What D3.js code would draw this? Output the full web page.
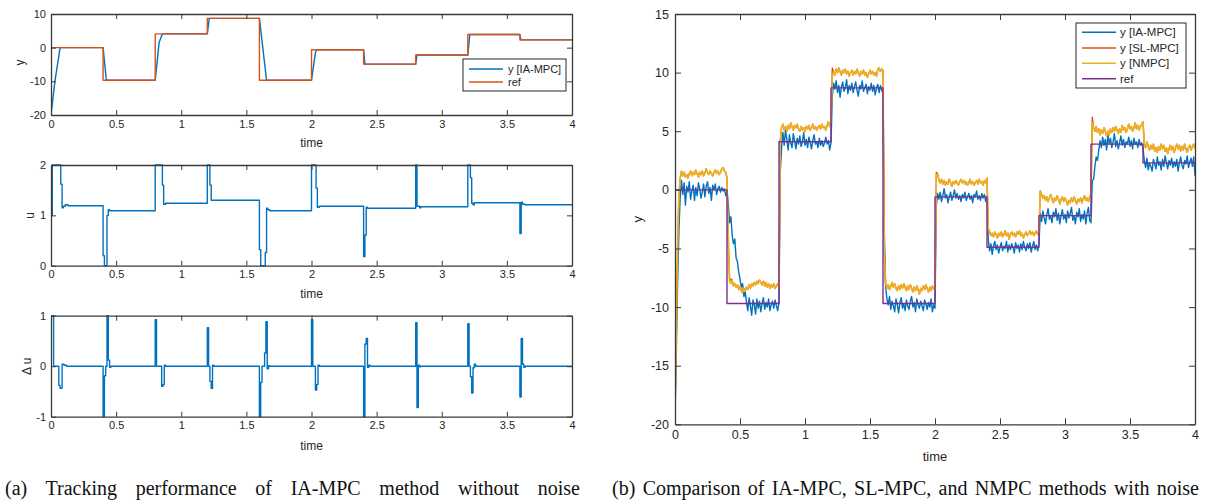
<!DOCTYPE html>
<html>
<head>
<meta charset="utf-8">
<script src="https://cdn.jsdelivr.net/npm/d3@7"></script>
<style>
  body { margin: 0; background: #fff; }
  svg { display: block; }
</style>
</head>
<body>
<svg id="fig" width="1212" height="504"></svg>
<script>
// ---- reference trajectory (piecewise constant set-points) ----
const refTime  = [0, 0.4, 0.8, 1.2, 1.6, 2.0, 2.4, 2.8, 3.2, 3.6, 4.0];
const refValue = [0, -9.7, 4.1, 8.7, -9.7, -0.6, -4.9, -2.2, 3.9, 2.3, 2.3];

// ---- (a) IA-MPC output without noise ----
const yCleanTime  = [0, 0.03, 0.07, 0.4, 0.425, 0.8, 0.83, 0.85, 0.86, 1.2, 1.215, 1.6, 1.655, 2.0, 2.03, 2.04, 2.4, 2.41, 2.8, 2.81, 3.2, 3.215, 3.6, 3.607, 4.0];
const yCleanValue = [-20, -10, 0, 0, -9.7, -9.7, 1.5, 3.6, 4.1, 4.1, 8.7, 8.7, -9.7, -9.7, -1.5, -0.6, -0.6, -4.9, -4.9, -2.2, -2.2, 3.9, 3.9, 2.3, 2.3];

// ---- (a) control input u (held between samples) ----
const uTime  = [0, 0.01, 0.075, 0.085, 0.095, 0.11, 0.13, 0.40, 0.41, 0.43, 0.44, 0.45, 0.80, 0.855, 0.865, 0.88, 1.20, 1.22, 1.23, 1.60, 1.61, 1.645, 1.655, 1.665, 1.68, 2.00, 2.035, 2.045, 2.06, 2.40, 2.41, 2.42, 2.43, 2.80, 2.81, 2.83, 2.84, 3.20, 3.22, 3.23, 3.24, 3.25, 3.60, 3.61, 3.62, 3.64, 4.00];
const uValue = [1.0, 2.0, 1.62, 1.15, 1.18, 1.21, 1.19, 0.2, 0.0, 1.0, 1.11, 1.09, 2.0, 1.6, 1.22, 1.24, 2.0, 1.6, 1.30, 0.32, 0.0, 0.26, 1.14, 1.11, 1.09, 2.0, 1.54, 1.16, 1.18, 0.18, 0.61, 1.16, 1.14, 2.0, 1.18, 1.15, 1.17, 2.0, 1.75, 1.24, 1.21, 1.25, 0.64, 1.26, 1.22, 1.21, 1.21];

// ---- (a) input increments Δu ----
const duTime  = [0, 0.02, 0.06, 0.07, 0.085, 0.10, 0.12, 0.40, 0.41, 0.42, 0.43, 0.44, 0.45, 0.46, 0.80, 0.81, 0.85, 0.86, 0.87, 0.88, 1.20, 1.21, 1.22, 1.23, 1.24, 1.25, 1.60, 1.61, 1.62, 1.64, 1.65, 1.66, 1.67, 1.68, 2.00, 2.01, 2.03, 2.04, 2.05, 2.06, 2.40, 2.41, 2.42, 2.43, 2.44, 2.45, 2.80, 2.81, 2.82, 2.83, 2.84, 3.20, 3.21, 3.22, 3.23, 3.24, 3.25, 3.26, 3.60, 3.61, 3.62, 3.63, 3.64, 4.00];
const duValue = [1, 0, -0.38, -0.44, 0.04, 0.02, 0, -1.0, -0.19, 0, 1.0, 0.12, -0.02, 0, 0.92, 0, -0.40, -0.36, 0.02, 0, 0.76, 0, -0.30, -0.44, 0.02, 0, -1.0, -0.32, 0, 0.26, 0.88, -0.05, 0.01, 0, 0.92, 0, -0.47, -0.36, 0.02, 0, -1.0, 0.44, 0.55, -0.02, 0.02, 0, 0.86, -0.82, 0.02, -0.01, 0, 0.84, 0, -0.21, -0.53, -0.03, 0.04, 0, -0.61, 0.55, 0.04, -0.02, 0, 0];

// ---- (b) noisy outputs, sampled every 0.01 s from t = 0 ----
const sampleStep = 0.01;
const yIaMpc = [
  -19.3, -14, -8, -3.5, -0.6, 0.8, -0.4, 0.6, -1.3, 0.3,
  -0.2, 0.7, -0.8, -0.1, 0.4, -0.9, 0.2, -0.5, 0.6, 0.1,
  -0.7, -0.2, 0.5, -0.6, 0.3, 0.7, -0.3, 0.2, -0.9, 0.4,
  0.0, 0.5, -0.4, 0.1, 0.3, -0.2, 0.2, -0.1, 0.1, -0.5,
  -0.1,
  -1.2, -2.8, -2.3, -3.9, -4.6, -4.2, -5.8, -6.1, -7.0, -7.6,
  -8.3, -8.0, -9.1, -8.7, -9.6, -10.3, -9.2, -9.9, -10.7, -9.4,
  -9.8, -10.6, -9.3, -10.1, -9.5, -10.4, -9.7, -9.2, -10.2, -9.6,
  -10.0, -9.3, -10.3, -9.8, -9.5, -10.1, -9.4, -9.9, -10.3, -9.6,
  1.5, 3.6, 4.9, 3.8, 5.1, 4.3, 3.4, 4.7, 4.0, 3.6,
  4.8, 4.2, 3.5, 4.4, 3.9, 4.6, 3.7, 4.1, 4.9, 3.8,
  4.3, 3.6, 4.5, 4.0, 3.5, 4.2, 4.7, 3.9, 4.1, 3.6,
  4.4, 3.8, 4.2, 3.7, 4.0, 4.5, 3.9, 4.2, 3.4, 4.0,
  8.0, 9.1, 8.6, 9.3, 8.3, 8.9, 7.9, 8.8, 9.2, 8.4,
  8.7, 9.4, 8.2, 8.9, 8.5, 9.1, 8.3, 8.8, 9.2, 8.5,
  8.0, 8.9, 8.6, 9.3, 8.4, 8.7, 9.0, 8.2, 8.8, 8.5,
  9.1, 8.4, 8.9, 8.1, 8.7, 9.0, 8.3, 8.9, 8.5, 8.2,
  -3.5, -8.2, -9.3, -9.8, -9.1, -10.2, -9.5, -9.9, -10.4, -9.3,
  -9.8, -10.5, -9.6, -9.2, -10.1, -9.7, -10.3, -9.4, -9.9, -10.2,
  -9.5, -9.1, -10.0, -9.6, -10.4, -9.3, -9.8, -10.1, -9.5, -9.9,
  -10.3, -9.4, -9.7, -10.2, -9.6, -10.0, -9.3, -10.4, -9.8, -10.1,
  -1.4, -0.3, -0.8, -0.2, -1.0, -0.5, 0.1, -0.7, -0.4, -1.1,
  -0.6, -0.2, -0.9, -0.5, 0.0, -0.7, -0.3, -0.8, -0.5, -1.0,
  -0.4, -0.7, -0.2, -0.9, -0.6, -0.3, -0.8, -0.5, -1.1, -0.4,
  -0.6, -0.1, -0.8, -0.5, -0.9, -0.3, -0.7, -0.4, -1.0, -0.6,
  -4.3, -5.2, -4.6, -5.5, -4.8, -4.4, -5.1, -4.7, -5.4, -4.9,
  -4.5, -5.2, -4.8, -5.0, -4.4, -5.3, -4.7, -5.1, -4.6, -4.9,
  -5.4, -4.5, -5.0, -4.7, -5.3, -4.6, -5.1, -4.4, -4.9, -5.2,
  -4.6, -5.0, -4.5, -5.3, -4.8, -4.4, -5.1, -4.7, -5.2, -4.6,
  -2.0, -2.7, -1.8, -2.4, -2.9, -2.1, -1.6, -2.5, -2.2, -2.8,
  -1.9, -2.3, -1.6, -2.6, -2.0, -2.9, -2.2, -1.7, -2.5, -2.1,
  -2.8, -1.8, -2.4, -2.0, -1.5, -2.6, -2.2, -2.9, -1.9, -2.3,
  -1.6, -2.7, -2.1, -2.5, -1.8, -2.9, -2.0, -1.5, -2.6, -2.8,
  0.8, 0.9, 2.0, 2.8, 2.5, 3.4, 4.2, 3.6, 4.5, 3.8,
  4.3, 3.4, 4.7, 3.9, 4.4, 3.6, 4.1, 4.8, 3.7, 4.2,
  3.5, 4.0, 4.6, 3.8, 4.3, 3.6, 4.1, 3.9, 4.5, 3.7,
  4.2, 3.5, 4.4, 3.9, 4.1, 3.6, 4.3, 3.8, 4.0, 3.6,
  2.5, 1.9, 2.7, 1.7, 2.3, 2.0, 1.6, 2.6, 2.2, 1.8,
  2.8, 2.1, 2.4, 1.7, 2.6, 2.0, 2.9, 2.3, 1.8, 2.5,
  2.1, 2.7, 1.9, 2.4, 2.0, 2.6, 1.6, 2.3, 2.8, 2.1,
  1.8, 2.5, 2.2, 2.9, 1.9, 2.4, 2.7, 2.0, 2.8, 1.2
];
const ySlMpc = [
  -19.0, -12, -5, -0.5, 1.0, 1.6, 1.2, 1.5, 1.1, 1.3,
  1.0, 1.4, 1.6, 1.2, 1.5, 1.3, 1.7, 1.4, 1.1, 1.5,
  1.3, 1.6, 1.2, 1.4, 1.8, 1.5, 1.3, 1.6, 1.4, 1.2,
  1.5, 1.7, 1.4, 1.6, 1.3, 1.5, 1.8, 1.9, 1.6, 1.5,
  1.0,
  -4.5, -7.8, -7.6, -7.7, -8.2, -8.0, -8.3, -8.1, -8.5, -8.2,
  -8.6, -8.8, -8.4, -8.6, -8.3, -8.5, -8.1, -8.4, -8.0, -8.2,
  -7.9, -8.1, -7.8, -8.0, -7.7, -7.9, -8.1, -7.8, -8.2, -7.9,
  -8.3, -8.0, -8.4, -8.1, -8.3, -8.0, -8.4, -8.2, -8.0, -8.3,
  4.2, 5.3, 5.6, 5.1, 5.4, 5.0, 5.5, 5.2, 5.7, 5.4,
  5.1, 5.5, 5.3, 5.6, 5.2, 5.0, 5.4, 5.1, 5.3, 5.0,
  5.4, 5.2, 5.5, 5.1, 5.3, 5.6, 5.2, 5.4, 5.1, 5.3,
  5.5, 5.2, 5.6, 5.3, 5.4, 5.1, 5.5, 5.8, 5.4, 5.9,
  10.4, 10.1, 9.8, 10.3, 10.0, 10.4, 10.1, 9.8, 10.2, 10.0,
  10.3, 9.9, 10.1, 9.7, 10.0, 10.2, 9.8, 10.1, 9.9, 10.3,
  10.0, 9.7, 10.1, 9.9, 10.2, 9.8, 10.0, 9.6, 9.9, 10.2,
  9.9, 10.1, 9.8, 10.0, 9.7, 10.3, 10.4, 10.1, 10.3, 10.2,
  -5.5, -8.0, -8.4, -8.1, -8.5, -8.2, -7.9, -8.3, -8.0, -8.4,
  -8.6, -8.2, -8.5, -8.1, -8.4, -8.0, -8.3, -8.6, -8.2, -8.5,
  -8.1, -8.4, -8.7, -8.3, -8.6, -8.2, -8.5, -8.9, -8.4, -8.6,
  -8.2, -8.5, -8.1, -8.4, -8.7, -8.3, -8.6, -8.2, -8.4, -8.6,
  1.5, 1.4, 0.8, 0.6, 0.9, 0.5, 0.8, 0.4, 0.7, 0.5,
  0.9, 0.6, 0.3, 0.7, 0.5, 0.8, 0.6, 0.4, 0.7, 0.9,
  0.6, 0.8, 0.5, 0.7, 0.4, 0.6, 0.9, 0.5, 0.7, 0.4,
  0.6, 0.8, 0.5, 0.9, 0.6, 0.7, 0.4, 0.8, 0.6, 1.0,
  -3.3, -3.6, -3.9, -3.7, -4.0, -3.6, -3.8, -4.1, -3.7, -3.9,
  -3.6, -4.0, -3.8, -3.5, -3.9, -3.7, -4.2, -3.8, -3.6, -3.9,
  -3.7, -4.0, -3.6, -3.8, -3.5, -3.9, -3.7, -4.1, -3.8, -3.6,
  -3.9, -3.7, -3.5, -3.8, -3.6, -3.9, -3.7, -3.5, -3.8, -3.6,
  -0.1, -0.4, -0.7, -0.5, -0.9, -0.6, -1.0, -0.7, -0.4, -0.8,
  -1.1, -0.7, -0.9, -0.5, -0.8, -1.2, -0.8, -0.6, -1.0, -0.7,
  -0.9, -1.3, -0.9, -1.1, -0.7, -1.0, -0.6, -0.9, -1.2, -0.8,
  -1.0, -0.7, -1.1, -0.8, -0.5, -0.9, -0.7, -1.0, -0.6, -0.4,
  6.2, 5.3, 5.0, 5.4, 4.9, 5.2, 4.7, 5.1, 4.8, 5.3,
  5.0, 4.6, 5.0, 4.7, 5.2, 4.9, 5.3, 5.0, 5.4, 5.1,
  4.8, 5.2, 4.9, 5.5, 5.1, 5.3, 4.9, 5.2, 5.6, 5.2,
  5.4, 5.0, 5.3, 5.7, 5.2, 5.5, 5.1, 5.4, 5.6, 5.8,
  3.9, 3.6, 4.1, 3.7, 3.4, 3.8, 3.5, 3.9, 3.3, 3.6,
  3.2, 3.7, 3.4, 3.9, 3.5, 3.8, 3.3, 3.6, 3.1, 3.5,
  3.8, 3.4, 3.7, 3.2, 3.6, 3.9, 3.5, 3.8, 3.3, 3.7,
  3.4, 3.9, 3.5, 3.2, 3.6, 3.8, 3.4, 3.7, 3.9, 3.5
];
const yNmpc = [
  -19.0, -12, -5, -0.5, 1.0, 1.6, 1.2, 1.5, 1.1, 1.3,
  1.0, 1.4, 1.6, 1.2, 1.5, 1.3, 1.7, 1.4, 1.1, 1.5,
  1.3, 1.6, 1.2, 1.4, 1.8, 1.5, 1.3, 1.6, 1.4, 1.2,
  1.5, 1.7, 1.4, 1.6, 1.3, 1.5, 1.8, 1.9, 1.6, 1.5,
  1.0,
  -4.0, -7.8, -8.0, -7.7, -8.2, -8.0, -8.3, -8.1, -8.5, -8.2,
  -8.6, -8.8, -8.4, -8.6, -8.3, -8.5, -8.1, -8.4, -8.0, -8.2,
  -7.9, -8.1, -7.8, -8.0, -7.7, -7.9, -8.1, -7.8, -8.2, -7.9,
  -8.3, -8.0, -8.4, -8.1, -8.3, -8.0, -8.4, -8.2, -8.0, -8.3,
  4.2, 5.3, 5.6, 5.1, 5.4, 5.0, 5.5, 5.2, 5.7, 5.4,
  5.1, 5.5, 5.3, 5.6, 5.2, 5.0, 5.4, 5.1, 5.3, 5.0,
  5.4, 5.2, 5.5, 5.1, 5.3, 5.6, 5.2, 5.4, 5.1, 5.3,
  5.5, 5.2, 5.6, 5.3, 5.4, 5.1, 5.5, 5.8, 5.4, 5.9,
  9.6, 10.1, 9.8, 10.3, 10.0, 10.4, 10.1, 9.8, 10.2, 10.0,
  10.3, 9.9, 10.1, 9.7, 10.0, 10.2, 9.8, 10.1, 9.9, 10.3,
  10.0, 9.7, 10.1, 9.9, 10.2, 9.8, 10.0, 9.6, 9.9, 10.2,
  9.9, 10.1, 9.8, 10.0, 9.7, 10.3, 10.4, 10.1, 10.3, 10.2,
  -5.5, -8.0, -8.4, -8.1, -8.5, -8.2, -7.9, -8.3, -8.0, -8.4,
  -8.6, -8.2, -8.5, -8.1, -8.4, -8.0, -8.3, -8.6, -8.2, -8.5,
  -8.1, -8.4, -8.7, -8.3, -8.6, -8.2, -8.5, -8.9, -8.4, -8.6,
  -8.2, -8.5, -8.1, -8.4, -8.7, -8.3, -8.6, -8.2, -8.4, -8.6,
  1.2, 1.4, 0.8, 0.6, 0.9, 0.5, 0.8, 0.4, 0.7, 0.5,
  0.9, 0.6, 0.3, 0.7, 0.5, 0.8, 0.6, 0.4, 0.7, 0.9,
  0.6, 0.8, 0.5, 0.7, 0.4, 0.6, 0.9, 0.5, 0.7, 0.4,
  0.6, 0.8, 0.5, 0.9, 0.6, 0.7, 0.4, 0.8, 0.6, 1.0,
  -3.3, -3.6, -3.9, -3.7, -4.0, -3.6, -3.8, -4.1, -3.7, -3.9,
  -3.6, -4.0, -3.8, -3.5, -3.9, -3.7, -4.2, -3.8, -3.6, -3.9,
  -3.7, -4.0, -3.6, -3.8, -3.5, -3.9, -3.7, -4.1, -3.8, -3.6,
  -3.9, -3.7, -3.5, -3.8, -3.6, -3.9, -3.7, -3.5, -3.8, -3.6,
  -0.1, -0.4, -0.7, -0.5, -0.9, -0.6, -1.0, -0.7, -0.4, -0.8,
  -1.1, -0.7, -0.9, -0.5, -0.8, -1.2, -0.8, -0.6, -1.0, -0.7,
  -0.9, -1.3, -0.9, -1.1, -0.7, -1.0, -0.6, -0.9, -1.2, -0.8,
  -1.0, -0.7, -1.1, -0.8, -0.5, -0.9, -0.7, -1.0, -0.6, -0.4,
  5.7, 5.3, 5.0, 5.4, 4.9, 5.2, 4.7, 5.1, 4.8, 5.3,
  5.0, 4.6, 5.0, 4.7, 5.2, 4.9, 5.3, 5.0, 5.4, 5.1,
  4.8, 5.2, 4.9, 5.5, 5.1, 5.3, 4.9, 5.2, 5.6, 5.2,
  5.4, 5.0, 5.3, 5.7, 5.2, 5.5, 5.1, 5.4, 5.6, 5.8,
  3.9, 3.6, 4.1, 3.7, 3.4, 3.8, 3.5, 3.9, 3.3, 3.6,
  3.2, 3.7, 3.4, 3.9, 3.5, 3.8, 3.3, 3.6, 3.1, 3.5,
  3.8, 3.4, 3.7, 3.2, 3.6, 3.9, 3.5, 3.8, 3.3, 3.7,
  3.4, 3.9, 3.5, 3.2, 3.6, 3.8, 3.4, 3.7, 3.9, 3.5
];

// ---- ticks ----
const timeTicks = [0, 0.5, 1, 1.5, 2, 2.5, 3, 3.5, 4];
const yTicksA   = [-20, -10, 0, 10];
const uTicks    = [0, 1, 2];
const duTicks   = [-1, 0, 1];
const yTicksB   = [-20, -15, -10, -5, 0, 5, 10, 15];

// ---- styling ----
const C_BLUE = '#0072BD', C_ORANGE = '#D95319', C_YELLOW = '#EDB120', C_PURPLE = '#7E2F8E';
const AXIS = '#3a3a3a';
const SANS = '"Liberation Sans", Arial, Helvetica, sans-serif';
const SERIF = '"Liberation Serif", "Times New Roman", serif';

const svg = d3.select('#fig');
const defs = svg.append('defs');
const fmt = d => String(d);

// Builds one MATLAB-style box axes; returns scales and a clipped group for the data.
function makePanel(o) {
  const x = d3.scaleLinear().domain(o.xDomain).range([o.x0, o.x1]);
  const y = d3.scaleLinear().domain(o.yDomain).range([o.y1, o.y0]);
  defs.append('clipPath').attr('id', o.id)
    .append('rect').attr('x', o.x0).attr('y', o.y0 - 1)
    .attr('width', o.x1 - o.x0).attr('height', o.y1 - o.y0 + 2);
  const g = svg.append('g');
  const plot = g.append('g').attr('clip-path', `url(#${o.id})`);
  const ax = g.append('g');
  const L = o.tickLen;
  ax.append('g').attr('transform', `translate(0,${o.y1})`)
    .call(d3.axisBottom(x).tickValues(o.xTicks).tickFormat(fmt).tickSizeInner(-L).tickSizeOuter(0).tickPadding(o.pad));
  ax.append('g').attr('transform', `translate(0,${o.y0})`)
    .call(d3.axisTop(x).tickValues(o.xTicks).tickFormat('').tickSizeInner(-L).tickSizeOuter(0));
  ax.append('g').attr('transform', `translate(${o.x0},0)`)
    .call(d3.axisLeft(y).tickValues(o.yTicks).tickFormat(fmt).tickSizeInner(-L).tickSizeOuter(0).tickPadding(o.pad));
  ax.append('g').attr('transform', `translate(${o.x1},0)`)
    .call(d3.axisRight(y).tickValues(o.yTicks).tickFormat('').tickSizeInner(-L).tickSizeOuter(0));
  ax.selectAll('.domain').attr('stroke', AXIS).attr('stroke-width', 1.3);
  ax.selectAll('.tick line').attr('stroke', AXIS).attr('stroke-width', 1);
  ax.selectAll('.tick text').attr('fill', '#262626')
    .style('font-family', SANS).style('font-size', o.font + 'px');
  // x label
  g.append('text').attr('x', (o.x0 + o.x1) / 2).attr('y', o.xLabelY)
    .attr('text-anchor', 'middle').attr('fill', '#262626')
    .style('font-family', SANS).style('font-size', o.labelFont + 'px').text('time');
  // y label
  g.append('text').attr('transform', `translate(${o.yLabelX},${(o.y0 + o.y1) / 2 + (o.yLabelDy || 0)}) rotate(-90)`)
    .attr('text-anchor', 'middle').attr('dy', '0.3em').attr('fill', '#262626')
    .style('font-family', SANS).style('font-size', o.labelFont + 'px').text(o.yLabel);
  return { x, y, plot };
}

function drawLine(p, xs, ys, color, width, curve) {
  const pts = d3.zip(xs, ys);
  p.plot.append('path').datum(pts)
    .attr('fill', 'none').attr('stroke', color).attr('stroke-width', width)
    .attr('stroke-linejoin', 'round')
    .attr('d', d3.line().x(d => p.x(d[0])).y(d => p.y(d[1])).curve(curve || d3.curveLinear));
}

function drawLegend(box, entries, rowY, lineX0, lineX1, textX, font) {
  const g = svg.append('g');
  g.append('rect').attr('x', box.x).attr('y', box.y).attr('width', box.w).attr('height', box.h)
    .attr('fill', '#fff').attr('stroke', '#262626').attr('stroke-width', 1);
  entries.forEach((e, i) => {
    const yy = rowY[i];
    g.append('line').attr('x1', lineX0).attr('x2', lineX1).attr('y1', yy).attr('y2', yy)
      .attr('stroke', e.color).attr('stroke-width', 1.4);
    g.append('text').attr('x', textX).attr('y', yy).attr('dy', '0.35em').attr('fill', '#262626')
      .style('font-family', SANS).style('font-size', font + 'px').text(e.label);
  });
}

// Caption set in a serif face, justified to a given width by widening word gaps.
function caption(x, width, str) {
  const t = svg.append('text').attr('x', x).attr('y', 495).attr('fill', '#111')
    .style('font-family', SERIF).style('font-size', '20px').text(str);
  const natural = t.node().getComputedTextLength();
  const gaps = str.split(' ').length - 1;
  t.style('word-spacing', Math.max(0, (width - natural) / gaps) + 'px');
}

// ---------- (a) top: output tracking ----------
const pA1 = makePanel({ id: 'cA1', x0: 51, x1: 572, y0: 14, y1: 115, xDomain: [0, 4], yDomain: [-20, 10],
  xTicks: timeTicks, yTicks: yTicksA, tickLen: 5, pad: 5, font: 11, labelFont: 12,
  xLabelY: 147, yLabel: 'y', yLabelX: 20, yLabelDy: -2 });
drawLine(pA1, yCleanTime, yCleanValue, C_BLUE, 1.4);
drawLine(pA1, refTime, refValue, C_ORANGE, 1.4, d3.curveStepAfter);
drawLegend({ x: 463, y: 59, w: 103, h: 32 },
  [{ label: 'y [IA-MPC]', color: C_BLUE }, { label: 'ref', color: C_ORANGE }],
  [69, 82], 469, 503, 508, 11);

// ---------- (a) middle: control input ----------
const pA2 = makePanel({ id: 'cA2', x0: 51, x1: 572, y0: 165, y1: 265.7, xDomain: [0, 4], yDomain: [0, 2],
  xTicks: timeTicks, yTicks: uTicks, tickLen: 5, pad: 5, font: 11, labelFont: 12,
  xLabelY: 298, yLabel: 'u', yLabelX: 30 });
drawLine(pA2, uTime, uValue, C_BLUE, 1.4, d3.curveStepAfter);

// ---------- (a) bottom: input increments ----------
const pA3 = makePanel({ id: 'cA3', x0: 51, x1: 572, y0: 315.7, y1: 416.7, xDomain: [0, 4], yDomain: [-1, 1],
  xTicks: timeTicks, yTicks: duTicks, tickLen: 5, pad: 5, font: 11, labelFont: 12,
  xLabelY: 450, yLabel: 'Δ u', yLabelX: 27 });
drawLine(pA3, duTime, duValue, C_BLUE, 1.4, d3.curveStepAfter);

// ---------- (b) comparison with noise ----------
const pB = makePanel({ id: 'cB', x0: 675, x1: 1195, y0: 14, y1: 424.3, xDomain: [0, 4], yDomain: [-20, 15],
  xTicks: timeTicks, yTicks: yTicksB, tickLen: 6, pad: 6, font: 12.5, labelFont: 13,
  xLabelY: 461, yLabel: 'y', yLabelX: 638 });
const sampleTimes = yIaMpc.map((_, i) => i * sampleStep);
drawLine(pB, sampleTimes, yIaMpc, C_BLUE, 1.4);
drawLine(pB, sampleTimes, ySlMpc, C_ORANGE, 1.4);
drawLine(pB, sampleTimes, yNmpc, C_YELLOW, 1.6);
drawLine(pB, refTime, refValue, C_PURPLE, 1.4, d3.curveStepAfter);
drawLegend({ x: 1076, y: 23, w: 110, h: 65 },
  [{ label: 'y [IA-MPC]', color: C_BLUE }, { label: 'y [SL-MPC]', color: C_ORANGE },
   { label: 'y [NMPC]', color: C_YELLOW }, { label: 'ref', color: C_PURPLE }],
  [32.3, 48, 63.3, 78.7], 1082, 1116, 1120, 11.5);

// ---------- sub-figure captions ----------
caption(5, 575, '(a) Tracking performance of IA-MPC method without noise');
caption(612, 587, '(b) Comparison of IA-MPC, SL-MPC, and NMPC methods with noise');
</script>
</body>
</html>
